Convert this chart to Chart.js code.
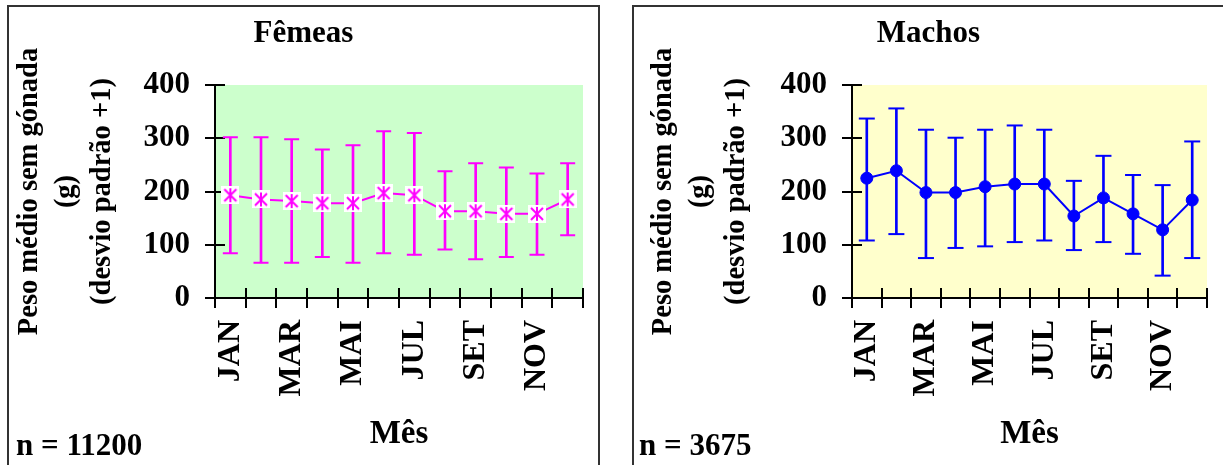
<!DOCTYPE html>
<html><head><meta charset="utf-8">
<script src="https://cdn.jsdelivr.net/npm/chart.js@4.4.1/dist/chart.umd.min.js"></script>
<style>
html,body{margin:0;padding:0;background:#fff;width:1223px;height:465px;overflow:hidden;}
.panel{position:absolute;top:5px;height:480px;border:2px solid #333;background:#fff;}
#pF{left:7px;width:589px;}
#pM{left:632px;width:620px;}
canvas{position:absolute;left:0;top:0;}
.n{position:absolute;top:422px;font:bold 31px 'Liberation Serif';line-height:31px;white-space:nowrap;color:#000;}
</style></head><body>
<div class="panel" id="pF"><canvas id="cF" width="589" height="458" style="width:589px;height:458px"></canvas><div class="n" style="left:7px">n = 11200</div></div>
<div class="panel" id="pM"><canvas id="cM" width="589" height="458" style="width:589px;height:458px"></canvas><div class="n" style="left:5px">n = 3675</div></div>
<script>
const meses = ['JAN','FEV','MAR','ABR','MAI','JUN','JUL','AGO','SET','OUT','NOV','DEZ'];
const yTicks = [0, 100, 200, 300, 400];
const femeasMedia = [193, 185, 182, 178, 178, 197, 193, 163, 163, 158, 158, 185];
const femeasSup   = [302, 302, 298, 279, 287, 313, 310, 238, 253, 245, 234, 253];
const femeasInf   = [84, 66, 66, 77, 66, 84, 81, 91, 73, 77, 81, 118];
const machosMedia = [225, 239, 198, 198, 209, 214, 214, 154, 188, 158, 128, 184];
const machosSup   = [337, 356, 316, 301, 316, 324, 316, 220, 267, 231, 212, 294];
const machosInf   = [108, 120, 75, 94, 97, 105, 108, 90, 105, 83, 42, 75];
const yTitle = ['Peso médio sem gónada', '(g)', '(desvio padrão +1)'];

const F = "'Liberation Serif', 'Times New Roman', serif";

function starMarker(color){
  const c = document.createElement('canvas'); c.width = 18; c.height = 18;
  const g = c.getContext('2d');
  g.fillStyle = '#fff'; g.fillRect(0, 0, 18, 18);
  g.strokeStyle = color; g.lineWidth = 2; g.beginPath();
  g.moveTo(3, 3); g.lineTo(15, 15); g.moveTo(15, 3); g.lineTo(3, 15);
  g.moveTo(9, 2); g.lineTo(9, 16); g.stroke();
  return c;
}

const plotBg = {
  id: 'plotBg',
  beforeDraw(chart, args, opts){
    const a = chart.chartArea, ctx = chart.ctx;
    ctx.save(); ctx.fillStyle = opts.color;
    ctx.fillRect(a.left, a.top, a.right - a.left, a.bottom - a.top);
    ctx.restore();
  }
};
const innerTicks = {
  id: 'innerTicks',
  beforeDatasetsDraw(chart){
    const {ctx, chartArea: a, scales: {x, y}} = chart;
    ctx.save(); ctx.strokeStyle = '#000'; ctx.lineWidth = 2; ctx.beginPath();
    for (let i = 0; i <= x.ticks.length; i++){
      const px = Math.round(x.getPixelForValue(i - 0.5));
      ctx.moveTo(px, a.bottom); ctx.lineTo(px, a.bottom - 10);
    }
    y.ticks.forEach(t => {
      const py = Math.round(y.getPixelForValue(t.value));
      ctx.moveTo(a.left, py); ctx.lineTo(a.left + 10, py);
    });
    ctx.stroke(); ctx.restore();
  }
};

function makeChart(id, cfg){
  const axisGrid = {display: true, drawOnChartArea: false, drawTicks: true, tickLength: 10, color: '#000', lineWidth: 2};
  const axisBorder = {display: true, color: '#000', width: 2};
  return new Chart(document.getElementById(id), {
    type: 'bar',
    data: {
      labels: meses,
      datasets: [
        {type: 'line', data: cfg.media, borderColor: cfg.color, borderWidth: 2, tension: 0, fill: false,
         pointStyle: cfg.pointStyle, pointRadius: cfg.radius, pointBackgroundColor: cfg.color,
         pointBorderColor: cfg.color, pointBorderWidth: 1, order: 0},
        {type: 'line', data: cfg.sup, showLine: false, pointStyle: 'line', pointRadius: cfg.cap,
         pointBorderColor: cfg.color, pointBackgroundColor: cfg.color, pointBorderWidth: 2, order: 1},
        {type: 'line', data: cfg.inf, showLine: false, pointStyle: 'line', pointRadius: cfg.cap,
         pointBorderColor: cfg.color, pointBackgroundColor: cfg.color, pointBorderWidth: 2, order: 1},
        {type: 'bar', data: cfg.inf.map((v, i) => [v, cfg.sup[i]]), backgroundColor: cfg.color,
         borderWidth: 0, barThickness: 2, grouped: false, order: 2}
      ]
    },
    options: {
      responsive: false, animation: false, events: [],
      layout: {padding: {left: cfg.pad, right: cfg.pad, top: 0, bottom: 0}},
      plugins: {
        legend: {display: false}, tooltip: {enabled: false},
        title: {display: true, text: cfg.title, color: '#000',
                font: {family: F, size: 31, weight: 'bold', lineHeight: 1.2}, padding: {top: 8, bottom: 32.8}},
        plotBg: {color: cfg.bg}
      },
      scales: {
        x: {
          offset: true,
          grid: Object.assign({offset: true}, axisGrid),
          border: axisBorder,
          ticks: {autoSkip: false, minRotation: 90, maxRotation: 90, padding: 12, color: '#000',
                  font: {family: F, size: 32, weight: 'bold'},
                  callback: (v, i) => i % 2 === 0 ? meses[i] : ''},
          title: {display: true, text: 'Mês', color: '#000',
                  font: {family: F, size: 33, weight: 'bold', lineHeight: 1.2}, padding: {top: 0, bottom: 11}},
          afterFit: s => { s.height = 167; s.paddingLeft = 0; s.paddingRight = 0; }
        },
        y: {
          min: 0, max: 400,
          afterBuildTicks: s => { s.ticks = yTicks.map(v => ({value: v})); },
          grid: axisGrid,
          border: axisBorder,
          ticks: {padding: 15, color: '#000', font: {family: F, size: 31, weight: 'bold'}},
          title: {display: true, text: yTitle, color: '#000',
                  font: {family: F, size: 28.5, weight: 'bold', lineHeight: 1.27}, padding: {top: cfg.yTitlePad, bottom: 0}},
          afterFit: s => { s.width = cfg.yWidth; }
        }
      }
    },
    plugins: [plotBg, innerTicks]
  });
}

makeChart('cF', {title: 'Fêmeas', media: femeasMedia, sup: femeasSup, inf: femeasInf,
  color: '#FF00FF', bg: '#CCFFCC', pointStyle: starMarker('#FF00FF'), radius: 9, cap: 7.5,
  yWidth: 191, pad: 15, yTitlePad: -12});
makeChart('cM', {title: 'Machos', media: machosMedia, sup: machosSup, inf: machosInf,
  color: '#0000FF', bg: '#FFFFCC', pointStyle: 'circle', radius: 6, cap: 8,
  yWidth: 202, pad: 16, yTitlePad: -4});
</script>
</body></html>
